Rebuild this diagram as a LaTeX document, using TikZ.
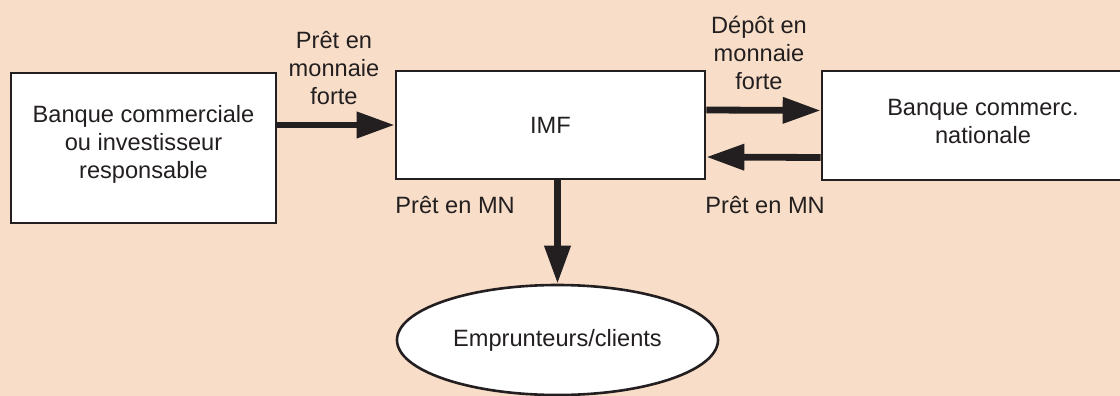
\documentclass[tikz,border=0pt]{standalone}
\usepackage{fontspec}
\setmainfont{Liberation Sans}
\usepackage{tikz}
\usetikzlibrary{arrows.meta,shapes.geometric}
\definecolor{peach}{HTML}{F8DEC8}
\definecolor{ink}{HTML}{231F20}

\begin{document}
\begin{tikzpicture}[x=0.5pt,y=-0.5pt,
    every node/.style={text=ink,font=\fontsize{11.8}{14}\selectfont},
    box/.style={draw=ink,line width=1.3pt,fill=white,align=center,inner sep=0pt},
    flow/.style={draw=ink,line width=3.4pt,-{Triangle[length=19pt,width=12.5pt]}},
    lbl/.style={align=center,inner sep=0pt}]
    % Draw the background
    \fill[peach] (0,0) rectangle (1120,396);
    \useasboundingbox (0,0) rectangle (1120,396);

    % Draw the boxes
    \node[box,minimum width=132.5pt,minimum height=75pt] (bank) at (143.5,148)
        {Banque commerciale\\ou investisseur\\responsable\\[-7.5pt]};
    \node[box,minimum width=154.5pt,minimum height=54pt] (imf) at (550.5,125) {IMF};
    \node[box,minimum width=161pt,minimum height=54.5pt] (natbank) at (983,125.5)
        {Banque commerc.\\nationale\\[-9.5pt]};
    \node[box,ellipse,minimum width=160.5pt,minimum height=55pt] (clients) at (557.5,340)
        {Emprunteurs/clients};

    % Draw the flows
    \draw[flow] (imf.west -| bank.east) -- (imf.west);
    \draw[flow] ([yshift=7.5pt]imf.east) -- ([yshift=7.5pt]natbank.west);
    \draw[flow] ([yshift=-16pt]natbank.west) -- ([yshift=-16pt]imf.east);
    \draw[flow] (clients.north |- imf.south) -- (clients.north);

    % Draw the labels
    \node[lbl] (loanhard) at (334,68) {Prêt en\\monnaie\\forte};
    \node[lbl] (deposit) at (759,53) {Dépôt en\\monnaie\\forte};
    \node[lbl,anchor=west] (loanmn) at (395,205) {Prêt en MN};
    \node[lbl,anchor=west] (loanmnb) at (705,205) {Prêt en MN};
\end{tikzpicture}
\end{document}
